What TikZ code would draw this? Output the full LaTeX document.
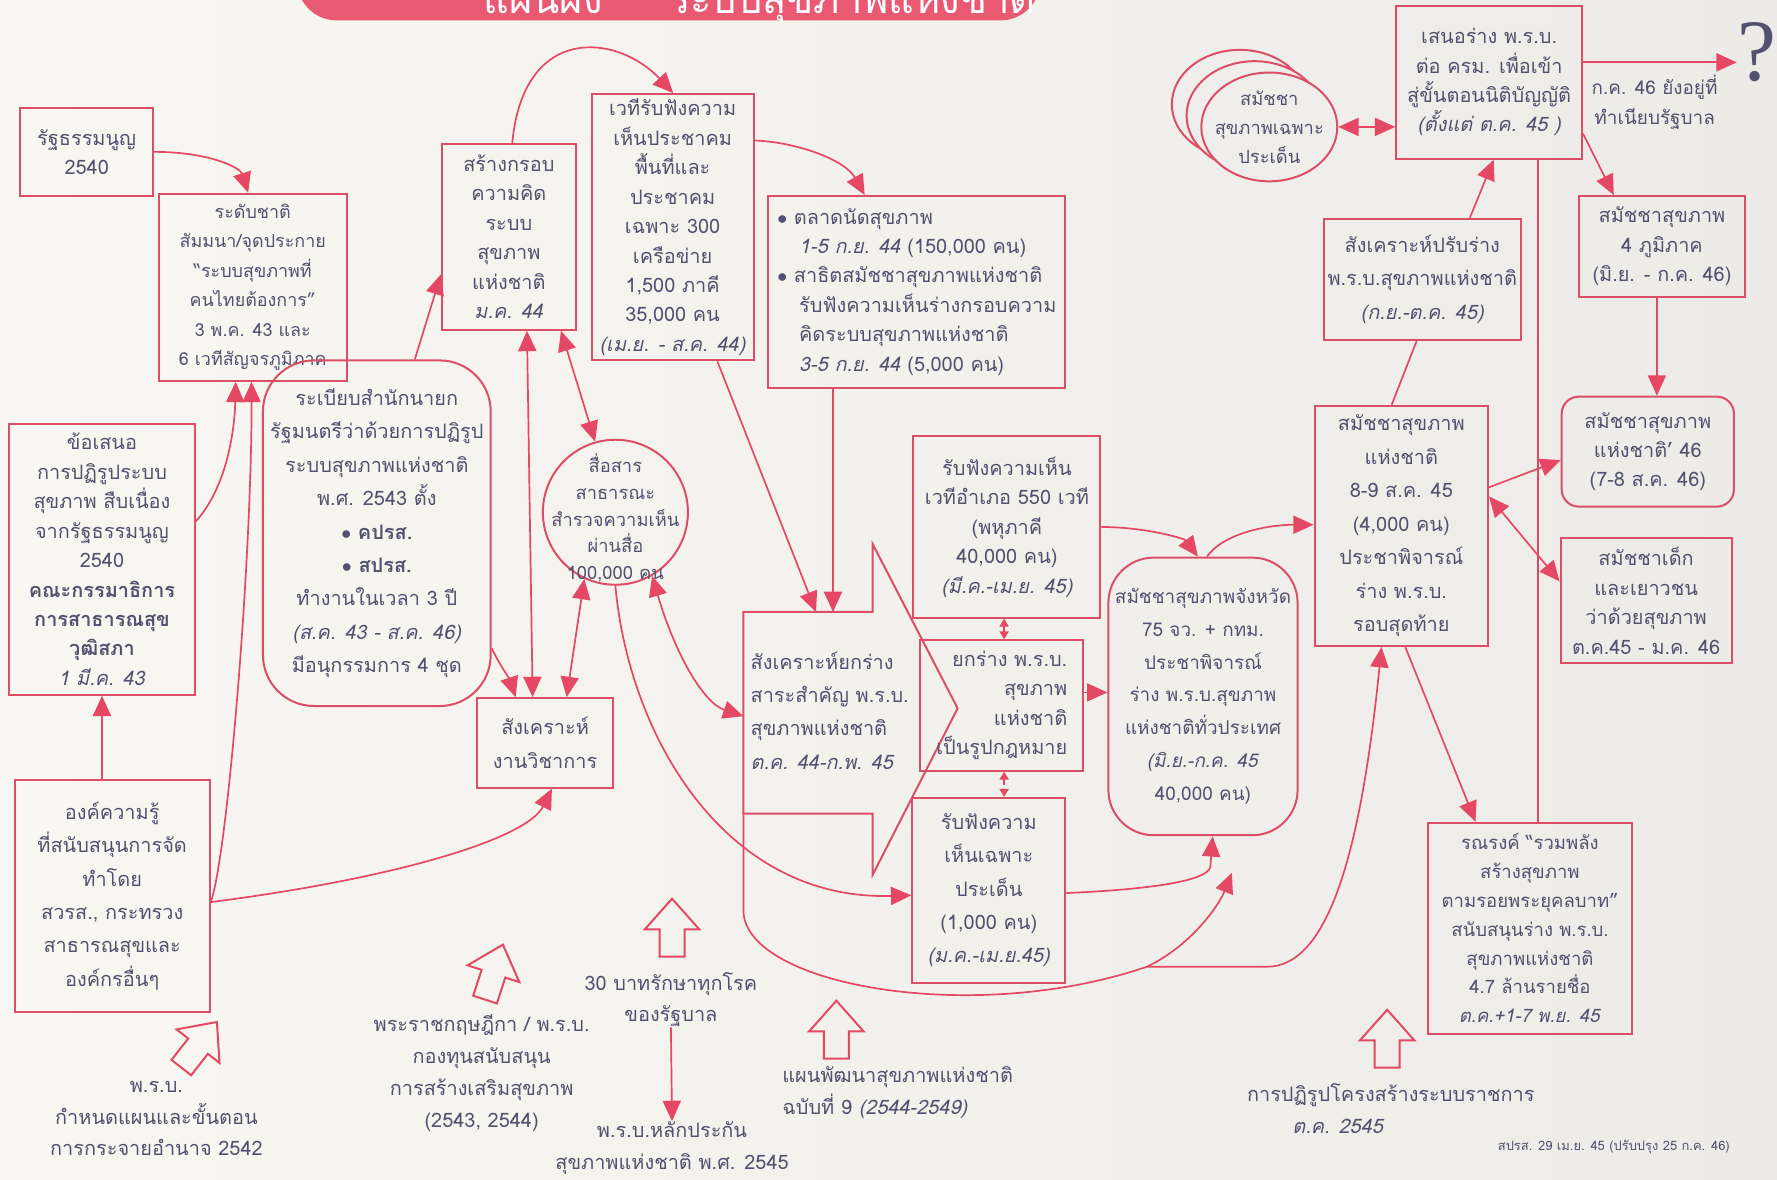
\documentclass[tikz,border=0pt]{standalone}
\usepackage{fontspec}
\setmainfont[Script=Thai]{Loma}
\newfontfamily\qfont{Liberation Serif}
\usepackage{tikz}
\usetikzlibrary{arrows.meta}
\usetikzlibrary{shapes}
\definecolor{linepink}{RGB}{228,72,100}
\definecolor{boxpink}{RGB}{220,78,104}
\definecolor{inkblue}{RGB}{82,82,112}
\definecolor{paperlight}{RGB}{249,247,241}
\definecolor{paperdark}{RGB}{236,235,231}
\definecolor{bannerpink}{RGB}{233,90,114}
\tikzset{thbox/.style={draw=boxpink, line width=1pt, text=inkblue, align=center, inner sep=2pt, font=\fontsize{10}{14.8}\selectfont}}
\tikzset{thround/.style={thbox, rounded corners=16pt}}
\tikzset{thlabel/.style={text=inkblue, align=center, inner sep=0pt, font=\fontsize{10}{16}\selectfont}}
\tikzset{looser/.style={font=\fontsize{10}{16.8}\selectfont}}
\tikzset{flow/.style={draw=linepink, line width=0.85pt, -{Triangle[length=3.6mm,width=3.2mm]}}}
\tikzset{flowboth/.style={flow, {Triangle[length=3.6mm,width=3.2mm]}-{Triangle[length=3.6mm,width=3.2mm]}}}
\tikzset{plainline/.style={draw=linepink, line width=0.85pt}}
\tikzset{tinyboth/.style={draw=linepink, line width=0.8pt, densely dashed, {Triangle[length=1.4mm,width=1.6mm]}-{Triangle[length=1.4mm,width=1.6mm]}}}
\tikzset{hollowup/.pic={\draw[draw=linepink, line width=1pt] (-11,0) -- (-11,-24) -- (-24,-24) -- (0,-51) -- (24,-24) -- (11,-24) -- (11,0) -- cycle;}}

\begin{document}
\begin{tikzpicture}[x=0.02cm, y=-0.02cm]
\useasboundingbox (0,0) rectangle (1568,1041);
\clip (0,0) rectangle (1568,1041);
\shade[left color=paperlight, right color=paperdark] (0,0) rectangle (1568,1041);

% title banner
\fill[bannerpink, rounded corners=20pt] (262,-60) rectangle (918,18);
\node[text=white, font=\fontsize{20}{20}\selectfont, anchor=base east, inner sep=0pt] (titlea) at (532,12) {แผนผัง};
\node[text=white, font=\fontsize{20}{20}\selectfont, anchor=base west, inner sep=0pt] (title) at (590,12) {ระบบสุขภาพแห่งชาติ};

% left column
\node[thbox, minimum width=2.34cm, minimum height=1.56cm] (rath) at (76.5,134) {รัฐธรรมนูญ\\2540};
\node[thbox, minimum width=3.32cm, minimum height=3.30cm, font=\fontsize{9}{14.8}\selectfont] (natl) at (223,253.5) {ระดับชาติ\\สัมมนา/จุดประกาย\\``ระบบสุขภาพที่\\คนไทยต้องการ''\\3 พ.ค. 43 และ\\6 เวทีสัญจรภูมิภาค};
\node[thbox, minimum width=3.28cm, minimum height=4.78cm] (khos) at (90,493.5) {ข้อเสนอ\\การปฏิรูประบบ\\สุขภาพ สืบเนื่อง\\จากรัฐธรรมนูญ\\2540\\\textbf{คณะกรรมาธิการ}\\\textbf{การสาธารณสุข}\\\textbf{วุฒิสภา}\\\textit{1 มี.ค. 43}};
\node[thbox, looser, minimum width=3.44cm, minimum height=4.10cm] (ongk) at (99,790.5) {องค์ความรู้\\ที่สนับสนุนการจัด\\ทำโดย\\สวรส., กระทรวง\\สาธารณสุขและ\\องค์กรอื่นๆ};
\node[thround, looser, rounded corners=0.9cm, minimum width=4.02cm, minimum height=6.10cm] (reg) at (332.5,470.5) {ระเบียบสำนักนายก\\รัฐมนตรีว่าด้วยการปฏิรูป\\ระบบสุขภาพแห่งชาติ\\พ.ศ. 2543 ตั้ง\\$\bullet$ \textbf{คปรส.}\\$\bullet$ \textbf{สปรส.}\\ทำงานในเวลา 3 ปี\\\textit{(ส.ค. 43 - ส.ค. 46)}\\มีอนุกรรมการ 4 ชุด};

% middle
\node[thbox, minimum width=2.36cm, minimum height=3.28cm] (krob) at (449,209) {สร้างกรอบ\\ความคิด\\ระบบ\\สุขภาพ\\แห่งชาติ\\\textit{ม.ค. 44}};
\node[thbox, minimum width=2.86cm, minimum height=4.70cm] (vetee) at (593.5,200.5) {เวทีรับฟังความ\\เห็นประชาคม\\พื้นที่และ\\ประชาคม\\เฉพาะ 300\\เครือข่าย\\1,500 ภาคี\\35,000 คน\\\textit{(เม.ย. - ส.ค. 44)}};
\node[thbox, align=left, minimum width=5.24cm, minimum height=3.38cm] (market) at (809,257.5) {$\bullet$ ตลาดนัดสุขภาพ\\\hspace*{1.1em}\textit{1-5 ก.ย. 44} (150,000 คน)\\$\bullet$ สาธิตสมัชชาสุขภาพแห่งชาติ\\\hspace*{1.1em}รับฟังความเห็นร่างกรอบความ\\\hspace*{1.1em}คิดระบบสุขภาพแห่งชาติ\\\hspace*{1.1em}\textit{3-5 ก.ย. 44} (5,000 คน)};
\node[draw=boxpink, line width=1pt, circle, minimum size=2.56cm] (media) at (543,452) {};
\node[thlabel, font=\fontsize{9.2}{13.4}\selectfont] (mediatext) at (543,457) {สื่อสาร\\สาธารณะ\\สำรวจความเห็น\\ผ่านสื่อ\\100,000 คน};
\node[thbox, looser, minimum width=2.40cm, minimum height=1.58cm] (sangkhro) at (481,655.5) {สังเคราะห์\\งานวิชาการ};

% big arrow
\draw[boxpink, line width=1pt] (656,718) -- (656,540) -- (770,540) -- (770,480) -- (845,625) -- (770,772) -- (770,718) -- cycle;
\coordinate (chw) at (656,632);
\coordinate (chn1) at (720,540);
\coordinate (chn2) at (735,540);
\coordinate (chsw) at (656,718);
\node[thlabel, looser, align=left, anchor=west] (synth) at (662,627) {สังเคราะห์ยกร่าง\\สาระสำคัญ พ.ร.บ.\\สุขภาพแห่งชาติ\\\textit{ต.ค. 44-ก.พ. 45}};

\node[thbox, minimum width=3.30cm, minimum height=3.20cm] (r550) at (888.5,465) {รับฟังความเห็น\\เวทีอำเภอ 550 เวที\\(พหุภาคี\\40,000 คน)\\\textit{(มี.ค.-เม.ย. 45)}};
\node[thbox, align=right, minimum width=2.88cm, minimum height=2.30cm] (yok) at (884,622.5) {ยกร่าง พ.ร.บ.\\สุขภาพ\\แห่งชาติ\\เป็นรูปกฎหมาย};
\node[thbox, looser, minimum width=2.70cm, minimum height=3.26cm] (chapo) at (872.5,785.5) {รับฟังความ\\เห็นเฉพาะ\\ประเด็น\\(1,000 คน)\\\textit{(ม.ค.-เม.ย.45)}};
\node[thround, rounded corners=0.8cm, minimum width=3.34cm, minimum height=4.90cm, font=\fontsize{9.5}{16.5}\selectfont] (chang) at (1061.5,614.5) {สมัชชาสุขภาพจังหวัด\\75 จว. + กทม.\\ประชาพิจารณ์\\ร่าง พ.ร.บ.สุขภาพ\\แห่งชาติทั่วประเทศ\\\textit{(มิ.ย.-ก.ค. 45}\\40,000 คน)};

% right side
\draw[boxpink, line width=1pt, fill=paperdark!72!paperlight] (1094,92) ellipse (60 and 48);
\draw[boxpink, line width=1pt, fill=paperdark!72!paperlight] (1107,102) ellipse (60 and 48);
\node[draw=boxpink, line width=1pt, fill=paperdark!72!paperlight, ellipse, minimum width=2.4cm, minimum height=1.92cm] (stack) at (1120,112) {};
\node[thlabel, font=\fontsize{9.2}{14.5}\selectfont] (stacktext) at (stack.center) {สมัชชา\\สุขภาพเฉพาะ\\ประเด็น};
\node[thbox, minimum width=3.28cm, minimum height=2.70cm] (senorang) at (1314,72.5) {เสนอร่าง พ.ร.บ.\\ต่อ ครม. เพื่อเข้า\\สู่ขั้นตอนนิติบัญญัติ\\\textit{(ตั้งแต่ ต.ค. 45 )}};
\node[thbox, looser, minimum width=3.40cm, minimum height=2.14cm] (prab) at (1255,246.5) {สังเคราะห์ปรับร่าง\\พ.ร.บ.สุขภาพแห่งชาติ\\\textit{(ก.ย.-ต.ค. 45)}};
\node[thbox, looser, minimum width=3.06cm, minimum height=4.24cm] (natass) at (1236.5,464) {สมัชชาสุขภาพ\\แห่งชาติ\\8-9 ส.ค. 45\\(4,000 คน)\\ประชาพิจารณ์\\ร่าง พ.ร.บ.\\รอบสุดท้าย};
\node[thbox, minimum width=2.94cm, minimum height=1.78cm] (pak4) at (1466.5,217.5) {สมัชชาสุขภาพ\\4 ภูมิภาค\\(มิ.ย. - ก.ค. 46)};
\node[thround, rounded corners=0.3cm, minimum width=3.04cm, minimum height=1.94cm] (nat46) at (1454,398.5) {สมัชชาสุขภาพ\\แห่งชาติ' 46\\(7-8 ส.ค. 46)};
\node[thbox, minimum width=3.02cm, minimum height=2.20cm] (dek) at (1452.5,530) {สมัชชาเด็ก\\และเยาวชน\\ว่าด้วยสุขภาพ\\ต.ค.45 - ม.ค. 46};
\node[thbox, minimum width=3.60cm, minimum height=3.72cm, font=\fontsize{9.3}{14.5}\selectfont] (campaign) at (1350,819) {รณรงค์ ``รวมพลัง\\สร้างสุขภาพ\\ตามรอยพระยุคลบาท''\\สนับสนุนร่าง พ.ร.บ.\\สุขภาพแห่งชาติ\\4.7 ล้านรายชื่อ\\\textit{ต.ค.+1-7 พ.ย. 45}};
\node[text=inkblue, inner sep=0pt, font=\qfont\fontsize{44}{44}\selectfont] (qmark) at (1550,46) {?};
\node[thlabel, font=\fontsize{9.5}{14.8}\selectfont] (qnote) at (1460,90) {ก.ค. 46 ยังอยู่ที่\\ทำเนียบรัฐบาล};

% bottom notes
\node[thlabel] (law42) at (138,987) {พ.ร.บ.\\กำหนดแผนและขั้นตอน\\การกระจายอำนาจ 2542};
\node[thlabel] (decree) at (425,947) {พระราชกฤษฎีกา / พ.ร.บ.\\กองทุนสนับสนุน\\การสร้างเสริมสุขภาพ\\(2543, 2544)};
\node[thlabel] (baht30) at (592,882) {30 บาทรักษาทุกโรค\\ของรัฐบาล};
\node[thlabel] (law45) at (593,1013) {พ.ร.บ.หลักประกัน\\สุขภาพแห่งชาติ พ.ศ. 2545};
\node[thlabel, align=left, anchor=west] (plan9) at (690,964) {แผนพัฒนาสุขภาพแห่งชาติ\\ฉบับที่ 9 \textit{(2544-2549)}};
\node[thlabel, align=left, anchor=west] (reform) at (1100,978) {การปฏิรูปโครงสร้างระบบราชการ\\\hspace*{0.8cm}\textit{ต.ค. 2545}};
\node[thlabel, font=\fontsize{6.5}{8}\selectfont] (foot) at (1424,1012) {สปรส. 29 เม.ย. 45 (ปรับปรุง 25 ก.ค. 46)};
\pic[rotate=-38] at (160,942) {hollowup};
\pic[rotate=-18] at (428,882) {hollowup};
\pic at (593,844) {hollowup};
\pic at (738,934) {hollowup};
\pic at (1224,942) {hollowup};

% connectors
\draw[flow] (rath.east) .. controls (185,134) and (212,148) .. (219,0 |- natl.north);
\draw[flow] (khos.east |- 0,460) .. controls (200,430) and (207,380) .. (208,0 |- natl.south);
\draw[flow] (ongk.east |- 0,796) .. controls (200,760) and (222,500) .. (222,0 |- natl.south);
\draw[flow] (ongk.east |- 0,796) .. controls (350,775) and (465,740) .. (487,0 |- sangkhro.south);
\draw[flow] (khos.south |- ongk.north) -- (khos.south);
\draw[flow] (366,0 |- reg.north) -- (krob.west |- 0,242);
\draw[flow] (reg.east |- 0,572) .. controls (440,585) and (450,600) .. (455,0 |- sangkhro.north);
\draw[flowboth] (465,0 |- krob.south) -- (470,0 |- sangkhro.north);
\draw[flowboth] (495,0 |- krob.south) -- (media.106);
\draw[flowboth] (media.245) -- (500,0 |- sangkhro.north);
\draw[flowboth] (media.-60) .. controls (595,575) and (620,620) .. (chw);
\draw[flow] (452,0 |- krob.north) .. controls (462,20) and (545,30) .. (594,0 |- vetee.north);
\draw[flow] (vetee.east |- 0,124) .. controls (700,125) and (745,140) .. (763,0 |- market.north);
\draw[flow] (633,0 |- vetee.south) -- (chn1);
\draw[flow] (chn2 |- market.south) -- (chn2);
\draw[flow] (media.south) .. controls (555,650) and (640,795) .. (chapo.west |- 0,790);
\coordinate (split) at (1012,853);
\coordinate (changin) at (1087,770);
\draw[flow] (chsw) -- (656,805) .. controls (660,870) and (860,905) .. (split) .. controls (1050,835) and (1075,800) .. (changin);
\draw[flow] (split) -- (1118,853) .. controls (1170,853) and (1200,760) .. (1219,0 |- natass.south);
\draw[flow] (chapo.east |- 0,788) .. controls (1010,785) and (1065,778) .. (1068,765) -- (1070,0 |- chang.south);
\draw[flow] (r550.east |- 0,465) .. controls (1010,465) and (1045,475) .. (1057,0 |- chang.north);
\draw[flow] (1065,0 |- chang.north) .. controls (1080,470) and (1120,463) .. (natass.west |- 0,463);
\draw[flow] (yok.east |- 0,611) -- (chang.west |- 0,611);
\draw[tinyboth] (886,0 |- r550.south) -- (886,0 |- yok.north);
\draw[tinyboth] (886,0 |- yok.south) -- (886,0 |- chapo.north);
\draw[flow] (1297,0 |- prab.north) -- (1318,0 |- senorang.south);
\draw[plainline] (1228,0 |- natass.north) -- (1250,0 |- prab.south);
\draw[plainline] (1357,0 |- senorang.south) -- (1357,0 |- campaign.north);
\draw[flow] (1240,0 |- natass.south) -- (1302,0 |- campaign.north);
\draw[flowboth] (stack.east) -- (senorang.west |- stack.east);
\draw[flow] (senorang.east |- 0,55) -- (qmark.west |- 0,55);
\draw[flow] (senorang.east |- 0,118) -- (1424,0 |- pak4.north);
\draw[flow] (1462,0 |- pak4.south) -- (1462,0 |- nat46.north);
\draw[flow] (natass.east |- 0,430) -- (nat46.west |- 0,406);
\draw[flowboth] (natass.east |- 0,438) -- (dek.west |- 0,513);
\draw[flow] (baht30.south) -- (law45.north);
\end{tikzpicture}
\end{document}
